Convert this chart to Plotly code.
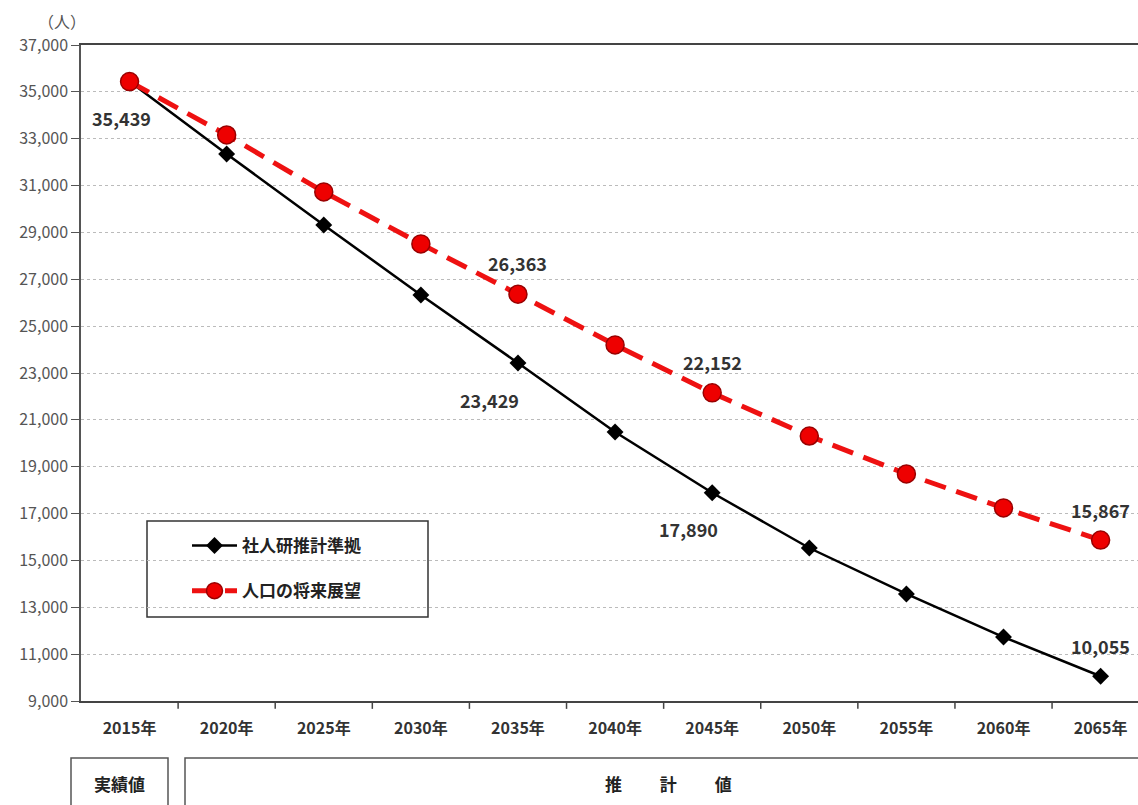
import plotly.graph_objects as go

years = ["2015年", "2020年", "2025年", "2030年", "2035年", "2040年",
         "2045年", "2050年", "2055年", "2060年", "2065年"]
ipss = [35439, 32350, 29320, 26330, 23429, 20480, 17890, 15530, 13570, 11730, 10055]
vision = [35439, 33160, 30730, 28510, 26363, 24200, 22152, 20310, 18690, 17240, 15867]
name_ipss = "社人研推計準拠"
name_vision = "人口の将来展望"
y_ticks = list(range(9000, 37001, 2000))

FONT = "Noto Sans CJK JP"
W, H = 1138, 805
L, R, T, B = 81, 0, 45, 104
pw, ph = W - L - R, H - T - B

fig = go.Figure()
fig.add_trace(go.Scatter(
    x=list(range(len(years))), y=ipss, name=name_ipss, mode="lines+markers",
    legendgroup="g0",
    line=dict(color="black", width=2.5),
    marker=dict(symbol="diamond", size=13, color="black"),
))
fig.add_trace(go.Scatter(
    x=list(range(len(years))), y=vision, name=name_vision, mode="lines+markers",
    legendgroup="g1",
    line=dict(color="#ee1111", width=5, dash="22px,11px"),
    marker=dict(symbol="circle", size=18, color="#ee0000",
                line=dict(color="#990000", width=1.5)),
))

# value labels
labels = [
    (0, ipss[0], -8, -36),
    (4, vision[4], 0, 31),
    (4, ipss[4], -28, -37),
    (6, vision[6], 0, 31),
    (6, ipss[6], -24, -36),
    (10, vision[10], 0, 30),
    (10, ipss[10], 0, 30),
]
for xi, yv, xs, ys in labels:
    fig.add_annotation(x=xi, y=yv, xref="x", yref="y", text=f"{yv:,}",
                       showarrow=False, xshift=xs, yshift=ys,
                       font=dict(family=FONT, size=18, color="#333333", weight="bold"))

def px_x(p):
    return (p - L) / pw

def px_y(p):
    return (H - B - p) / ph

# legend box
fig.add_shape(type="rect", xref="paper", yref="paper",
              x0=px_x(147), x1=px_x(428), y0=px_y(617), y1=px_y(521),
              line=dict(color="#333333", width=1.5), fillcolor="white", layer="below")

# bottom boxes
fig.add_shape(type="rect", xref="paper", yref="paper",
              x0=px_x(71), x1=px_x(168), y0=px_y(830), y1=px_y(758),
              line=dict(color="#555555", width=1.5))
fig.add_shape(type="rect", xref="paper", yref="paper",
              x0=px_x(185), x1=px_x(1160), y0=px_y(830), y1=px_y(758),
              line=dict(color="#555555", width=1.5))
fig.add_annotation(xref="paper", yref="paper", x=px_x(119), y=px_y(783),
                   xanchor="center", yanchor="middle",
                   text="実績値", showarrow=False,
                   font=dict(family=FONT, size=17, color="#222222", weight="bold"))
fig.add_annotation(xref="paper", yref="paper", x=px_x(668), y=px_y(783),
                   xanchor="center", yanchor="middle",
                   text="推　　 計　　 値", showarrow=False,
                   font=dict(family=FONT, size=17, color="#222222", weight="bold"))
# unit
fig.add_annotation(xref="paper", yref="paper", x=px_x(62), y=px_y(21),
                   xanchor="center", yanchor="middle",
                   text="（人）", showarrow=False,
                   font=dict(family=FONT, size=16, color="#555555"))

fig.update_layout(
    width=W, height=H,
    margin=dict(l=L, r=R, t=T, b=B),
    plot_bgcolor="white", paper_bgcolor="white",
    font=dict(family=FONT),
    showlegend=True,
    legend=dict(x=px_x(187), y=px_y(528), xanchor="left", yanchor="top",
                bgcolor="rgba(0,0,0,0)", borderwidth=0,
                font=dict(family=FONT, size=17, color="#222222", weight="bold"),
                tracegroupgap=20, traceorder="grouped", itemwidth=45),
    xaxis=dict(
        range=[-0.5, (W - L) / (pw / 10.885) - 0.5],
        tickmode="array", tickvals=list(range(len(years))), ticktext=years,
        showgrid=False, zeroline=False,
        showline=True, linecolor="#444444", linewidth=2, mirror=True,
        ticks="", tickfont=dict(family=FONT, size=16, color="#333333", weight="bold"),
        ticklabelstandoff=12,
    ),
    yaxis=dict(
        range=[9000, 37000], tickvals=y_ticks,
        ticktext=[f"{v:,}" for v in y_ticks],
        showgrid=True, gridcolor="#bbbbbb", griddash="dot", gridwidth=1,
        zeroline=False, showline=True, linecolor="#555555", linewidth=1.5,
        ticks="outside", ticklen=8, tickcolor="#555555",
        tickfont=dict(family=FONT, size=16, color="#555555"),
    ),
)

# category separator ticks on x-axis
for k in range(1, 11):
    fig.add_shape(type="line", xref="x", yref="paper", x0=k - 0.5, x1=k - 0.5,
                  y0=0, y1=-0.012, line=dict(color="#444444", width=1.5))

fig.write_html("out.html")
